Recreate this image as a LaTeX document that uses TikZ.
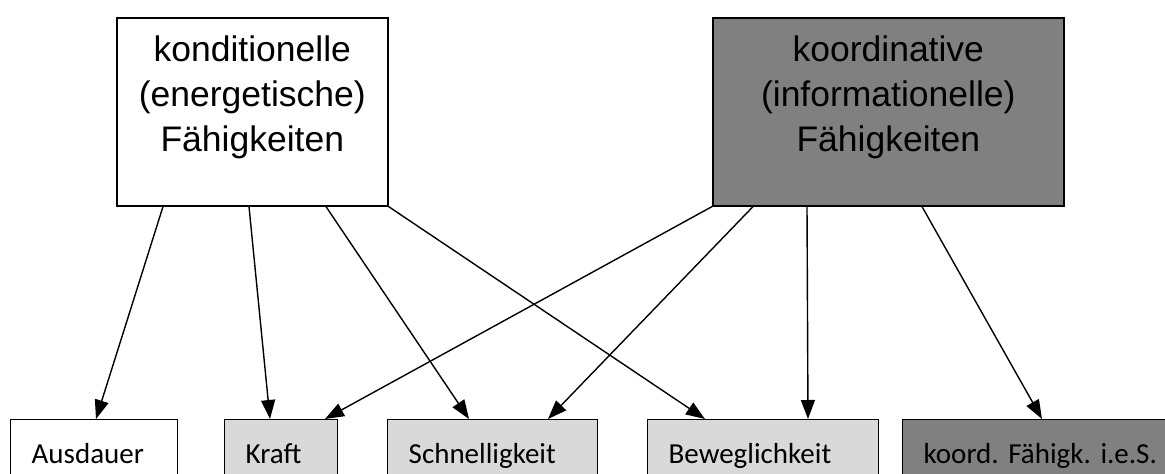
\documentclass[tikz,border=0pt]{standalone}
\usepackage{fontspec}
\setmainfont{Liberation Sans}
\newfontfamily\calfont{Carlito}
\usepackage{xcolor}
\usepackage{tikz}
\usetikzlibrary{arrows.meta}
\definecolor{darkfill}{HTML}{808080}
\definecolor{lightfill}{HTML}{D9D9D9}
\frenchspacing

\begin{document}
\begin{tikzpicture}[x=1pt,y=-1pt]
	\tikzset{big box/.style={draw=black,line width=1.6pt,minimum width=#1,minimum height=188pt,anchor=north west,inner sep=0pt},
		big text/.style={font=\fontsize{35.5}{45}\selectfont,align=center,anchor=north,inner sep=0pt},
		small box/.style={draw=black,line width=1.4pt,anchor=north west,text width=#1-42pt,inner xsep=21pt,
			minimum height=74pt,text height=21pt,text depth=7pt,align=left,font=\calfont\fontsize{29}{34}\selectfont},
		link/.style={line width=1.4pt,-{Triangle[length=19pt,width=14pt]}}}
	\clip (0,0) rectangle (1165,474);

	% top boxes
	\node[big box=271pt,fill=white] (kond) at (116,17) {};
	\node[big text] (kondtxt) at ([yshift=-19pt]kond.north) {konditionelle\\(energetische)\\Fähigkeiten};
	\node[big box=351pt,fill=darkfill] (koord) at (712,17) {};
	\node[big text] (koordtxt) at ([yshift=-19pt]koord.north) {koordinative\\(informationelle)\\Fähigkeiten};

	% bottom boxes
	\node[small box=167pt,fill=white] (aus) at (10,419) {Ausdauer};
	\node[small box=113pt,fill=lightfill] (kraft) at (224,419) {Kraft};
	\node[small box=210pt,fill=lightfill] (schnell) at (387,419) {Schnelligkeit};
	\node[small box=231pt,fill=lightfill] (beweg) at (647,419) {Beweglichkeit};
	\node[small box=290pt,fill=darkfill] (kfis) at (902,419) {koord. Fähigk. i.e.S.};

	% arrows from the left box
	\draw[link] ([xshift=47pt]kond.south west) -- ([xshift=86pt]aus.north west);
	\draw[link] ([xshift=133pt]kond.south west) -- ([xshift=46pt]kraft.north west);
	\draw[link] ([xshift=210pt]kond.south west) -- ([xshift=82pt]schnell.north west);
	\draw[link] (kond.south east) -- ([xshift=58pt]beweg.north west);

	% arrows from the right box
	\draw[link] (koord.south west) -- ([xshift=101pt]kraft.north west);
	\draw[link] ([xshift=41pt]koord.south west) -- ([xshift=161pt]schnell.north west);
	\draw[link] ([xshift=95pt]koord.south west) -- ([xshift=161pt]beweg.north west);
	\draw[link] ([xshift=210pt]koord.south west) -- ([xshift=140pt]kfis.north west);
\end{tikzpicture}
\end{document}
